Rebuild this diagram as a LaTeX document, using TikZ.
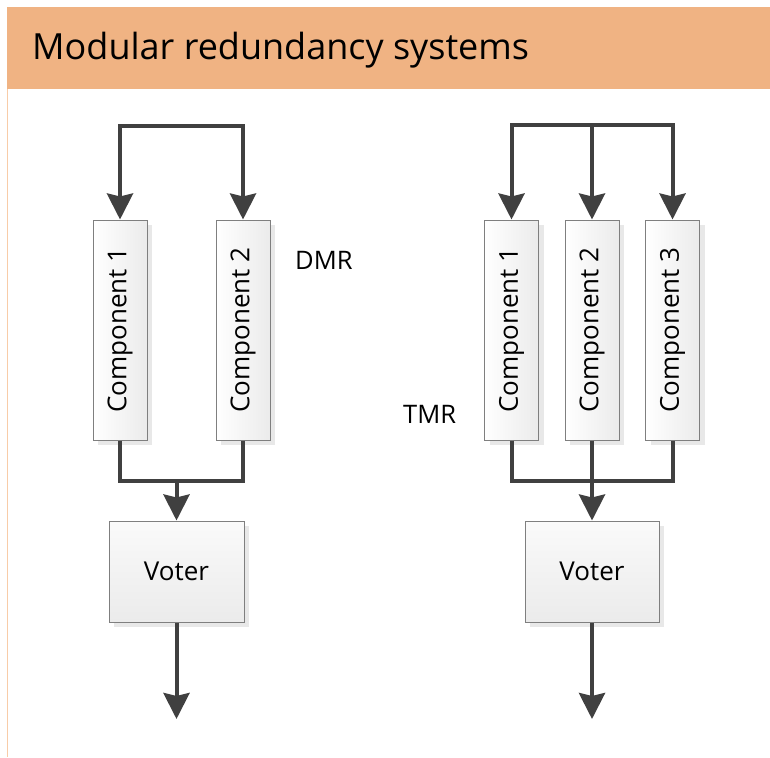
\documentclass[tikz,border=0pt]{standalone}
\usepackage{fontspec}
\setmainfont{Open Sans}
\usepackage{graphicx}
\usetikzlibrary{arrows.meta,shadows}

\definecolor{bandorange}{HTML}{F0B383}
\definecolor{bandedge}{HTML}{F8CCA8}
\definecolor{wire}{HTML}{404040}
\definecolor{boxedge}{HTML}{7F7F7F}
\definecolor{boxshade}{HTML}{EBEBEB}
\definecolor{boxshadow}{HTML}{E8E8E8}

\tikzset{
  wirestyle/.style={draw=wire, line width=4pt},
  flow/.style={wirestyle, -{Stealth[length=26pt,width=26pt,inset=3pt]}},
  boxbase/.style={draw=boxedge, line width=1pt, inner sep=0pt,
    drop shadow={shadow xshift=5pt, shadow yshift=-5pt, fill=boxshadow, opacity=1},
    font=\fontsize{26}{31}\selectfont},
  compbox/.style={boxbase, left color=white, right color=boxshade,
    minimum width=54pt, minimum height=220pt},
  voterbox/.style={boxbase, top color=white!98!black, bottom color=boxshade,
    minimum width=135pt, minimum height=101pt},
  tag/.style={anchor=base west, inner sep=0pt, font=\fontsize{25.5}{30}\selectfont},
}

\begin{document}
\begin{tikzpicture}[x=1pt, y=-1pt]
\useasboundingbox (0,0) rectangle (770,757);

% title band and page edge
\fill[bandorange] (7,7) rectangle (770,89);
\draw[bandedge, line width=1pt] (7,89) -- (7,757);
\node[anchor=base west, inner sep=0pt, font=\fontsize{36}{43}\selectfont]
  (title) at (32,60) {Modular redundancy systems};

% ---- DMR ----
\node[compbox] (d1) at (120,330) {\rotatebox{90}{Component 1}};
\node[compbox] (d2) at (243,330) {\rotatebox{90}{Component 2}};
\node[voterbox] (dv) at (176.5,571.5) {Voter};
\node[tag] (dmr) at (295,269) {DMR};

\coordinate (dIn) at (176.5,126);
\coordinate (dJoin) at (176.5,481);
\coordinate (dOut) at (176.5,719);

\draw[flow] (dIn) -| (d1.north);
\draw[flow] (dIn) -| (d2.north);
\draw[wirestyle] (d1.south) |- (dJoin);
\draw[wirestyle] (d2.south) |- (dJoin);
\draw[flow] (dJoin) -- (dv.north);
\draw[flow] (dv.south) -- (dOut);

% ---- TMR ----
\node[compbox] (t1) at (511.5,330) {\rotatebox{90}{Component 1}};
\node[compbox] (t2) at (592,330) {\rotatebox{90}{Component 2}};
\node[compbox] (t3) at (672.5,330) {\rotatebox{90}{Component 3}};
\node[voterbox, minimum width=134pt] (tv) at (592,571.5) {Voter};
\node[tag] (tmr) at (403,423) {TMR};

\coordinate (tIn) at (592,125);
\coordinate (tJoin) at (592,481);
\coordinate (tOut) at (592,719);

\draw[flow] (tIn) -| (t1.north);
\draw[flow] (tIn) -- (t2.north);
\draw[flow] (tIn) -| (t3.north);
\draw[wirestyle] (t1.south) |- (tJoin);
\draw[wirestyle] (t3.south) |- (tJoin);
\draw[wirestyle] (t2.south) -- (tJoin);
\draw[flow] (tJoin) -- (tv.north);
\draw[flow] (tv.south) -- (tOut);
\end{tikzpicture}
\end{document}
